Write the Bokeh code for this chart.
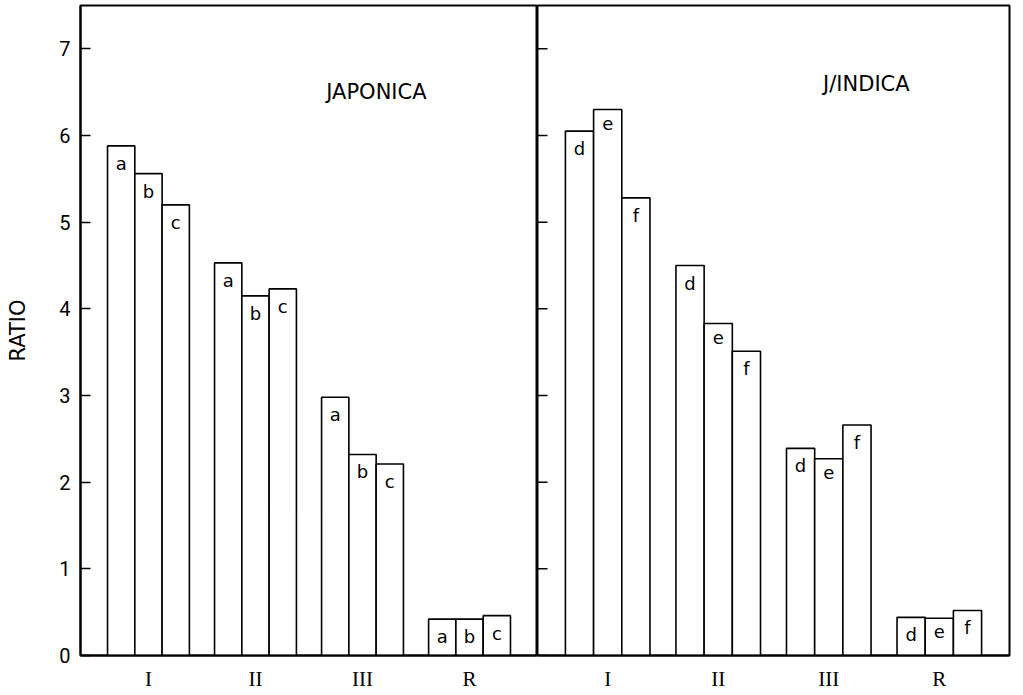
from bokeh.plotting import figure
from bokeh.layouts import row
from bokeh.models import FactorRange, Range1d, FixedTicker, ColumnDataSource, Label
from bokeh.transform import dodge
from bokeh.core.properties import value
from bokeh.embed import file_html
from bokeh.resources import INLINE

# ---- data ----
categories = ["I", "II", "III", "R"]
japonica_a = [5.88, 4.53, 2.98, 0.42]
japonica_b = [5.56, 4.15, 2.32, 0.42]
japonica_c = [5.20, 4.23, 2.21, 0.46]
indica_d = [6.05, 4.50, 2.39, 0.44]
indica_e = [6.30, 3.83, 2.27, 0.43]
indica_f = [5.28, 3.51, 2.66, 0.52]
japonica_letters = ["a", "b", "c"]
indica_letters = ["d", "e", "f"]
y_ticks = [0, 1, 2, 3, 4, 5, 6, 7]

OFFSETS = [-0.255, 0.0, 0.255]
BAR_W = 0.255
PAD = 0.135
H = 693


def make_panel(width, series, letters, title, title_x, title_y, first):
    p = figure(
        x_range=FactorRange(factors=categories, range_padding=PAD,
                            range_padding_units="absolute"),
        y_range=Range1d(0, 7.5),
        width=width, height=H,
        output_backend="svg", toolbar_location=None,
        min_border_top=5, min_border_bottom=0,
        min_border_left=80 if first else 0,
        min_border_right=0 if first else 3,
    )
    p.xgrid.visible = False
    p.ygrid.visible = False
    p.outline_line_color = "black"
    p.outline_line_width = 2
    p.background_fill_color = "white"
    p.border_fill_color = "white"

    for vals, lab, off in zip(series, letters, OFFSETS):
        src = ColumnDataSource(dict(cat=categories, val=vals, lab=[lab] * len(vals)))
        xs = dodge("cat", off, range=p.x_range)
        p.vbar(x=xs, top="val", width=BAR_W, source=src,
               fill_color="white", line_color="black", line_width=1.6)
        p.text(x=xs, y="val", text="lab", source=src,
               text_align="center", text_baseline="top", y_offset=7,
               text_font=value("DejaVu Sans"), text_font_size="18px",
               text_color="black")

    p.add_layout(Label(x=title_x, y=title_y, text=title,
                       text_align="center", text_baseline="middle",
                       text_font="DejaVu Sans", text_font_size="21px",
                       text_color="black"))

    # x axis
    xa = p.xaxis[0]
    xa.major_tick_line_color = None
    xa.minor_tick_line_color = None
    xa.axis_line_color = "black"
    xa.axis_line_width = 2
    xa.major_label_text_font = "Liberation Serif"
    xa.major_label_text_font_size = "21px"
    xa.major_label_text_color = "black"
    xa.major_label_standoff = 5

    # y axis
    ya = p.yaxis[0]
    if first:
        ya.ticker = FixedTicker(ticks=y_ticks)
        ya.major_tick_in = 10
        ya.major_tick_out = 0
        ya.major_tick_line_color = "black"
        ya.major_tick_line_width = 1.5
        ya.minor_tick_line_color = None
        ya.axis_line_color = "black"
        ya.axis_line_width = 2
        ya.major_label_text_font = "Roboto"
        ya.major_label_text_font_size = "20px"
        ya.major_label_text_color = "black"
        ya.major_label_standoff = 10
        ya.axis_label = "RATIO"
        ya.axis_label_text_font = "DejaVu Sans"
        ya.axis_label_text_font_style = "normal"
        ya.axis_label_text_font_size = "21px"
        ya.axis_label_text_color = "black"
        ya.axis_label_standoff = 26
    else:
        ya.visible = False
        # inward tick marks on the shared divider
        p.ray(x=-PAD, y=y_ticks, length=10, length_units="screen", angle=0,
              line_color="black", line_width=1.5)
    return p


left = make_panel(537, [japonica_a, japonica_b, japonica_c], japonica_letters,
                  "JAPONICA", 2.63, 6.5, True)
right = make_panel(475, [indica_d, indica_e, indica_f], indica_letters,
                   "J/INDICA", 2.84, 6.6, False)

layout = row(left, right)
open("out.html", "w").write(file_html(layout, INLINE))
